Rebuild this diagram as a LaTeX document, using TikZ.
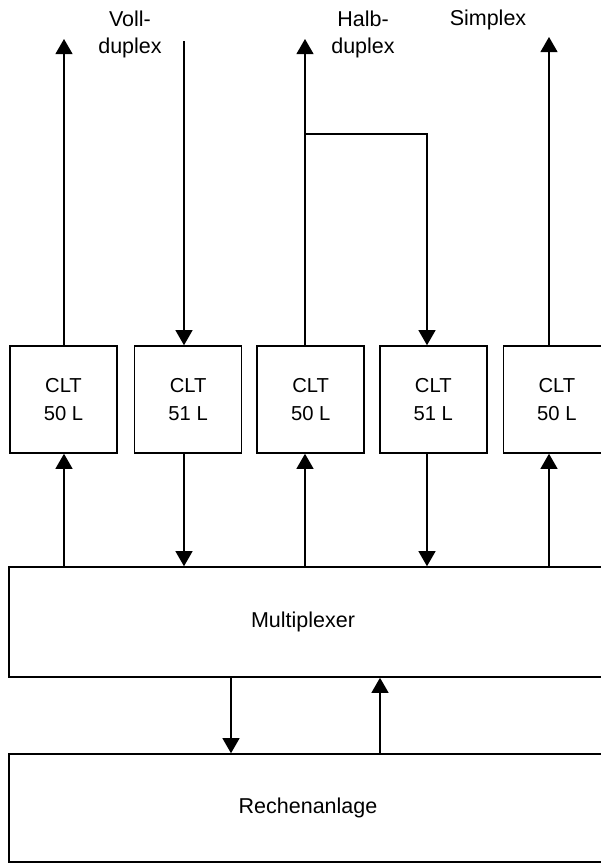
\documentclass[tikz,border=0pt]{standalone}
\usepackage{fontspec}
\setmainfont{Liberation Sans}
\usetikzlibrary{arrows.meta, positioning}

\begin{document}
\begin{tikzpicture}[
    x=1pt, y=-1pt,
    font=\fontsize{21.5}{27}\selectfont,
    clt/.style={
        draw, line width=1.6pt,
        minimum width=107pt, minimum height=107pt,
        align=center, inner sep=0pt,
        font=\fontsize{20.2}{28}\selectfont
    },
    block/.style={
        draw, line width=1.6pt,
        minimum width=611pt, inner sep=0pt
    },
    tag/.style={
        align=center, inner sep=0pt
    },
    arrow/.style={
        -{Triangle[width=17pt, length=15pt]}, line width=1.1pt
    }
]
\useasboundingbox (0,0) rectangle (601,863);
\clip (0,0) rectangle (601,863);

% --- line terminals ---
\node[clt] (b1) at (63.5,399.5) {CLT\\50 L};
\node[clt, right=16pt of b1] (b2) {CLT\\51 L};
\node[clt, right=14pt of b2] (b3) {CLT\\50 L};
\node[clt, right=14pt of b3] (b4) {CLT\\51 L};
\node[clt, right=15pt of b4] (b5) {CLT\\50 L};

% --- multiplexer and computer, both run off the right edge ---
\node[block, minimum height=110pt,
      label={[xshift=-11.5pt]center:Multiplexer}] (mux) at (314.5,622) {};
\node[block, minimum height=108pt,
      label={[xshift=-6.5pt]center:Rechenanlage}] (rech) at (314.5,808) {};

% --- line labels ---
\node[tag] (voll) at (130,34) {Voll-\\duplex};
\node[tag] (halb) at (363,34.5) {Halb-\\duplex};
\node[tag] (simp) at (488,20) {Simplex};

% --- line ends at the top ---
\coordinate (vout)   at (64,39);
\coordinate (vin)    at (184,41);
\coordinate (hout)   at (305,39);
\coordinate (hsplit) at (305,134);
\coordinate (hturn)  at (427,134);
\coordinate (sout)   at (549,37);

\draw[arrow] (b1.north -| vout) -- (vout);
\draw[arrow] (vin) -- (b2.north -| vin);
\draw[arrow] (b3.north -| hout) -- (hout);
\draw[arrow] (hsplit) -- (hturn) -- (b4.north -| hturn);
\draw[arrow] (b5.north -| sout) -- (sout);

% --- terminals <-> multiplexer ---
\draw[arrow] (mux.north -| vout) -- (b1.south -| vout);
\draw[arrow] (b2.south -| vin) -- (mux.north -| vin);
\draw[arrow] (mux.north -| hout) -- (b3.south -| hout);
\draw[arrow] (b4.south -| hturn) -- (mux.north -| hturn);
\draw[arrow] (mux.north -| sout) -- (b5.south -| sout);

% --- multiplexer <-> computer ---
\coordinate (rdown) at (231,700);
\coordinate (rup)   at (380,700);
\draw[arrow] (mux.south -| rdown) -- (rech.north -| rdown);
\draw[arrow] (rech.north -| rup) -- (mux.south -| rup);

\end{tikzpicture}
\end{document}
